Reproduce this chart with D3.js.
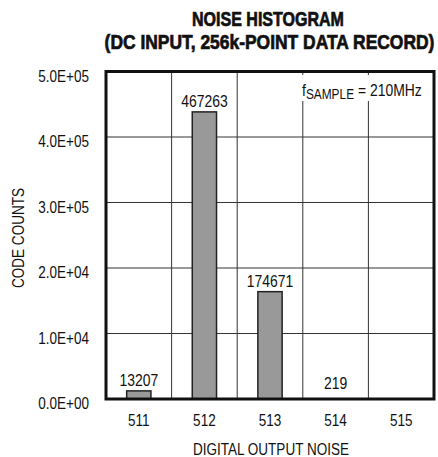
<!DOCTYPE html>
<html>
<head>
<meta charset="utf-8">
<script src="https://cdn.jsdelivr.net/npm/d3@7"></script>
<style>
  body { margin: 0; background: #fff; }
  text { font-family: "Liberation Sans", Arial, sans-serif; fill: #111; }
</style>
</head>
<body>
<div id="chart"></div>
<script>
// data
const codes = ["511", "512", "513", "514", "515"];
const codeCounts = [13207, 467263, 174671, 219, 0];
// grid lines of the original sit at multiples of ~106.6k, labelled as below
const yTickValues = [0, 106600, 213200, 319800, 426400, 533000];
const yTickLabels = ["0.0E+00", "1.0E+04", "2.0E+04", "3.0E+05", "4.0E+05", "5.0E+05"];
const titleLines = ["NOISE HISTOGRAM", "(DC INPUT, 256k-POINT DATA RECORD)"];

const width = 438, height = 457;
const plot = { left: 106, right: 434, top: 71.5, bottom: 399 };
const squeeze = 0.82; // no narrow font installed, so squash Liberation Sans

const svg = d3.select("#chart")
    .append("svg")
    .attr("width", width)
    .attr("height", height);

// squash a text horizontally around its own anchor
function narrow(sel, k = squeeze) {
    sel.each(function () {
        const t = d3.select(this);
        const x0 = +t.attr("x") || 0, y0 = +t.attr("y") || 0;
        t.attr("transform", `translate(${x0},${y0}) scale(${k},1) translate(${-x0},${-y0})`);
    });
}

const x = d3.scaleBand()
    .domain(codes)
    .range([plot.left, plot.right])
    .paddingInner(0.63)
    .paddingOuter(0.315);

const y = d3.scaleLinear()
    .domain([0, yTickValues[yTickValues.length - 1]])
    .range([plot.bottom, plot.top]);

const step = x.step();
const cx = d => x(d) + x.bandwidth() / 2;

// grid
svg.append("g")
    .selectAll("line")
    .data(yTickValues.slice(1, -1))
    .join("line")
    .attr("x1", plot.left).attr("x2", plot.right)
    .attr("y1", d => y(d)).attr("y2", d => y(d))
    .attr("stroke", "#333").attr("stroke-width", 1);

svg.append("g")
    .selectAll("line")
    .data(codes.slice(1))
    .join("line")
    .attr("x1", d => cx(d) - step / 2).attr("x2", d => cx(d) - step / 2)
    .attr("y1", plot.top).attr("y2", plot.bottom)
    .attr("stroke", "#333").attr("stroke-width", 1);

// sample rate note with white box behind it
const note = svg.append("g");
note.append("rect")
    .attr("x", 300).attr("y", 75)
    .attr("width", plot.right - 300).attr("height", 26)
    .attr("fill", "#fff");
const noteText = note.append("text")
    .attr("x", 302)
    .attr("y", 96)
    .style("font-size", "17px");
noteText.append("tspan").text("f");
noteText.append("tspan").attr("dy", 3).style("font-size", "14.5px").text("SAMPLE");
noteText.append("tspan").attr("dy", -3).text(" = 210MHz");
noteText.call(narrow);

// bars
const barData = codes.map((c, i) => ({ code: c, count: codeCounts[i] })).filter(d => d.count > 0);

svg.append("g")
    .selectAll("rect")
    .data(barData)
    .join("rect")
    .attr("x", d => x(d.code))
    .attr("y", d => y(d.count))
    .attr("width", x.bandwidth())
    .attr("height", d => y(0) - y(d.count))
    .attr("fill", "#999")
    .attr("stroke", "#222")
    .attr("stroke-width", 1.5);

svg.append("g")
    .selectAll("text")
    .data(barData)
    .join("text")
    .attr("x", d => cx(d.code))
    .attr("y", d => Math.min(y(d.count) - 5, y(0) - 10))
    .attr("text-anchor", "middle")
    .style("font-size", "17px")
    .text(d => d.count)
    .call(narrow);

// frame
svg.append("rect")
    .attr("x", plot.left).attr("y", plot.top)
    .attr("width", plot.right - plot.left)
    .attr("height", plot.bottom - plot.top)
    .attr("fill", "none")
    .attr("stroke", "#111")
    .attr("stroke-width", 3);

// axes
const yAxis = d3.axisLeft(y)
    .tickValues(yTickValues)
    .tickFormat((d, i) => yTickLabels[i])
    .tickSize(0)
    .tickPadding(17);

svg.append("g")
    .attr("transform", `translate(${plot.left},0)`)
    .call(yAxis)
    .call(g => g.select(".domain").remove())
    .call(g => g.selectAll("text")
        .attr("dy", "0.6em")
        .style("font-size", "16.5px")
        .attr("fill", "#111")
        .call(narrow));

const xAxis = d3.axisBottom(x).tickSize(0).tickPadding(15);

svg.append("g")
    .attr("transform", `translate(0,${plot.bottom})`)
    .call(xAxis)
    .call(g => g.select(".domain").remove())
    .call(g => g.selectAll("text")
        .style("font-size", "16.5px")
        .attr("fill", "#111")
        .call(narrow));

// axis titles
svg.append("text")
    .attr("x", (plot.left + plot.right) / 2 + 1)
    .attr("y", 455)
    .attr("text-anchor", "middle")
    .style("font-size", "16.5px")
    .text("DIGITAL OUTPUT NOISE")
    .call(narrow);

svg.append("text")
    .attr("transform", `translate(24,238) rotate(-90) scale(${squeeze},1)`)
    .attr("text-anchor", "middle")
    .style("font-size", "16.5px")
    .text("CODE COUNTS");

// title, squashed to the widths of the original heavy condensed face
const titleWidths = [152, 330];
svg.append("g")
    .selectAll("text")
    .data(titleLines)
    .join("text")
    .attr("x", (d, i) => i ? 269.5 : 268)
    .attr("y", (d, i) => i ? 49 : 26)
    .attr("text-anchor", "middle")
    .style("font-size", "20px")
    .style("font-weight", "bold")
    .style("stroke", "#111").style("stroke-width", 0.7)
    .text(d => d)
    .each(function (d, i) {
        d3.select(this).call(narrow, titleWidths[i] / this.getComputedTextLength());
    });
</script>
</body>
</html>
